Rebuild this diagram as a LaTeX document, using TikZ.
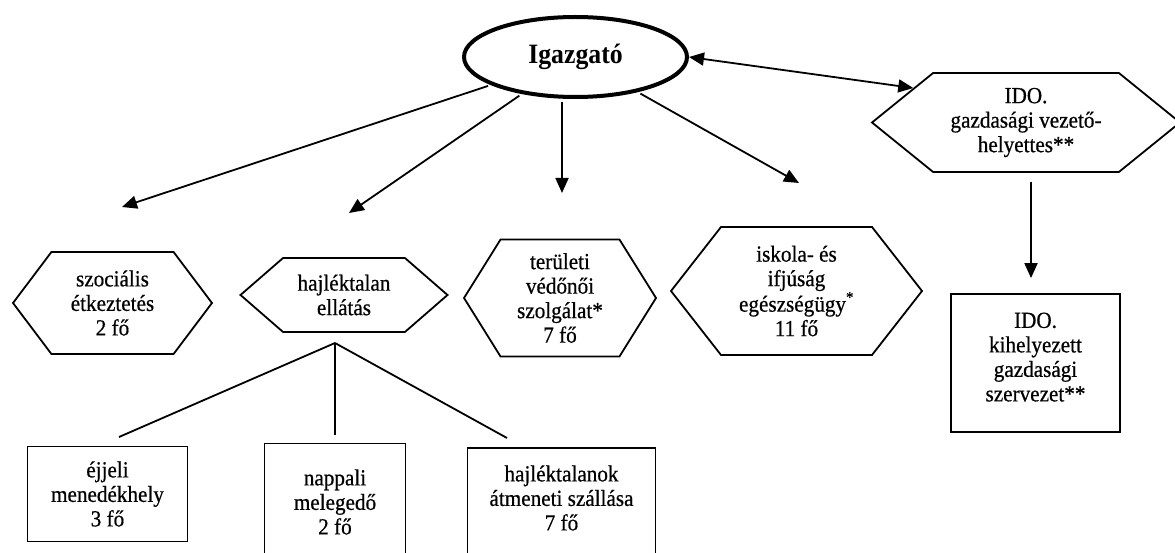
\documentclass[tikz,border=0pt]{standalone}
\usepackage{fontspec}
\setmainfont{Liberation Serif}[FakeStretch=0.92,UprightFeatures={FakeBold=0.6}]
\usetikzlibrary{shapes.geometric,shapes.symbols,arrows.meta}
\tikzset{
  orgchart/.style={>={Triangle[length=15pt,width=13pt]},
    x=1pt,y=-1pt,
    line width=1.8pt,
    every node/.style={font=\fontsize{23}{24.5}\selectfont,align=center}},
  head/.style={ellipse,draw,line width=4pt,minimum width=223pt,minimum height=80pt,
    font=\fontsize{28}{30}\selectfont\bfseries},
  hexa/.style={signal,signal to=east and west,draw,inner sep=0pt},
  unit/.style={rectangle,draw,inner sep=0pt},
  link/.style={->,shorten <=3pt},
  branch/.style={-}}

\begin{document}
\begin{tikzpicture}[orgchart]
      \useasboundingbox (0,0) rectangle (1175,553);
      \node[head] (igazgato) at (575.5,57) {Igazgató};
      \node[hexa,signal pointer angle=106,minimum width=199pt,minimum height=102pt] (szoc) at (112.5,303) {szociális\\étkeztetés\\2 fő};
      \node[hexa,signal pointer angle=82,minimum width=207pt,minimum height=74pt] (hajl) at (344,295) {hajléktalan\\ellátás};
      \node[hexa,signal pointer angle=116,minimum width=192pt,minimum height=117pt] (ter) at (560,298) {területi\\védőnői\\szolgálat*\\7 fő};
      \node[hexa,signal pointer angle=104,minimum width=251pt,minimum height=128pt] (isk) at (796.5,291) {iskola- és\\ifjúság\\egészségügy\textsuperscript{*}\\11 fő};
      \node[hexa,signal pointer angle=78,minimum width=308pt,minimum height=99pt] (ido) at (1026,122.5) {IDO.\\gazdasági vezető-\\helyettes**};
      \node[unit,minimum width=169pt,minimum height=138pt,text depth=12pt] (kihely) at (1035.5,363) {IDO.\\kihelyezett\\gazdasági\\szervezet**};
      \node[unit,minimum width=160pt,minimum height=95pt] (ejjeli) at (107.5,494) {éjjeli\\menedékhely\\3 fő};
      \node[unit,minimum width=141pt,minimum height=117pt] (nappali) at (335,502) {nappali\\melegedő\\2 fő};
      \node[unit,minimum width=188pt,minimum height=120pt,text depth=20pt,anchor=north] (atmeneti) at (561.5,447) {hajléktalanok\\átmeneti szállása\\7 fő};
      \coordinate (t1) at (122,207);
      \coordinate (t2) at (349,213);
      \coordinate (t3) at (562,193);
      \coordinate (t4) at (799,183);
      \coordinate (split) at (335,343);
      \coordinate (s1) at (119,437);
      \coordinate (s3) at (507,438);
      \draw[link] (igazgato) to (t1);
      \draw[link] (igazgato) to (t2);
      \draw[link] (igazgato.south -| t3) to (t3);
      \draw[link] (igazgato) to (t4);
      \draw[<->] (igazgato.east) to (ido.163);
      \draw[link,shorten <=9pt,shorten >=15pt] ([xshift=5pt]ido.south) to ([xshift=-4.5pt]kihely.north);
      \draw[branch] (split) to (s1);
      \draw[branch,shorten >=8pt] (split) to (nappali.north);
      \draw[branch] (split) to (s3);
\end{tikzpicture}
\end{document}
